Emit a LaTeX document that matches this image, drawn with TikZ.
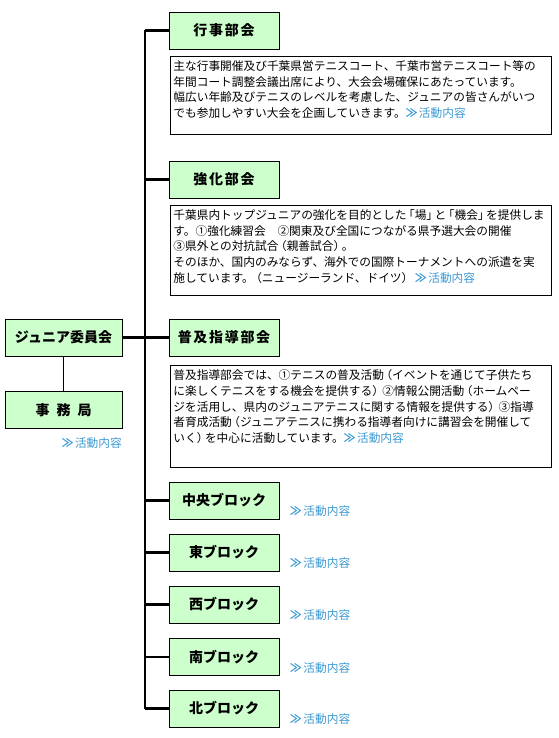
\documentclass[tikz,border=0pt]{standalone}
\usepackage{fontspec}
\setmainfont{Noto Sans CJK JP}
\usetikzlibrary{positioning}
\definecolor{unitgreen}{HTML}{CCFFCC}
\definecolor{linkblue}{HTML}{3D9AD2}
\newcommand{\katsudo}{{\color{linkblue}{\bfseries ≫}\kern1.5pt活動内容}}
\newcommand{\lk}[1]{\kern-3.5pt#1}
\newcommand{\rk}[1]{#1\kern-3.5pt}
\newcommand{\descbox}[4]{
	\node[descbox] (#1) at (#2) {\parbox[b][#3pt][t]{375pt}{\vspace*{4.5pt}#4}};
}
\tikzset{
	unit/.style={draw, line width=0.8pt, fill=unitgreen, minimum width=110pt, minimum height=37pt,
		inner sep=0pt, font=\fontsize{14}{14}\selectfont\bfseries},
	spaced/.style={font=\fontsize{14}{14}\selectfont\bfseries\addfontfeature{LetterSpace=12}},
	descbox/.style={draw, line width=0.8pt, anchor=north west, inner xsep=3pt, inner ysep=0pt,
		font=\fontsize{11.7}{15.6}\selectfont},
	katsudolink/.style={inner sep=0pt, anchor=west, font=\fontsize{11.7}{12}\selectfont},
	branch/.style={line width=2.2pt},
	spine/.style={line width=1.2pt}
}

\begin{document}
\begin{tikzpicture}[x=1pt,y=-1pt]
	\useasboundingbox[fill=white] (0,0) rectangle (558,738);
	
	\coordinate (spinetop) at (145,30.5);
	\coordinate (spinebot) at (145,708.5);
	\draw[spine] (spinetop) -- (spinebot);
	
	% left side
	\node[unit, minimum width=117pt] (iinkai) at (63.5,337.5) {ジュニア委員会};
	\node[unit, minimum width=117pt] (jimu) at (63.5,410) {事\hspace{7pt}務\hspace{7pt}局};
	\node[katsudolink, anchor=east] (jimulink) at (122,443) {\katsudo};
	\draw[line width=0.8pt] (iinkai) -- (jimu);
	
	% bukai
	\node[unit, spaced] (gyouji) at (224,30.5) {行事部会};
	\node[unit, spaced] (kyouka) at (224,179.5) {強化部会};
	\node[unit, spaced] (fukyu) at (224,337.5) {普及指導部会};
	\draw[branch] (gyouji.west) -- (gyouji.west -| spinetop);
	\draw[branch] (kyouka.west) -- (kyouka.west -| spinetop);
	\draw[branch] (iinkai.east) -- (fukyu.west);
	
	\descbox{gyoujitext}{170,56}{78}{主な行事開催及び千葉県営テニスコート、千葉市営テニスコート等の\\
		年間コート調整会議出席により、大会会場確保にあたっています。\\
		幅広い年齢及びテニスのレベルを考慮した、ジュニアの皆さんがいつ\\
		でも参加しやすい大会を企画していきます。\katsudo}
	\descbox{kyoukatext}{170,205}{90}{千葉県内トップジュニアの強化を目的とした\lk{「}場\rk{」}と\lk{「}機会\rk{」}を提供しま\\
		す。①強化練習会　②関東及び全国につながる県予選大会の開催\\
		③県外との対抗試合\lk{（}親善試合\rk{）}。\\
		そのほか、国内のみならず、海外での国際トーナメントへの派遣を実\\
		施しています。\lk{（}ニュージーランド、ドイツ\rk{）}\ \ \katsudo}
	\descbox{fukyutext}{170,365}{102}{普及指導部会では、①テニスの普及活動\lk{（}イベントを通じて子供たち\\
		に楽しくテニスをする機会を提供する\rk{）}\,②情報公開活動\lk{（}ホームペー\\
		ジを活用し、県内のジュニアテニスに関する情報を提供する\rk{）}\,③指導\\
		者育成活動\lk{（}ジュニアテニスに携わる指導者向けに講習会を開催して\\
		いく\rk{）}を中心に活動しています。\katsudo}
	
	% blocks
	\foreach \nm/\lbl/\y in {chuo/中央ブロック/500.5, higashi/東ブロック/552.5,
		nishi/西ブロック/604.5, minami/南ブロック/657, kita/北ブロック/708.5} {
		\node[unit] (\nm) at (224,\y) {\lbl};
		\node[katsudolink] (\nm link) at (290,\y+11) {\katsudo};
		\draw[branch] (\nm.west) -- (\nm.west -| spinetop);
	}
\end{tikzpicture}
\end{document}
